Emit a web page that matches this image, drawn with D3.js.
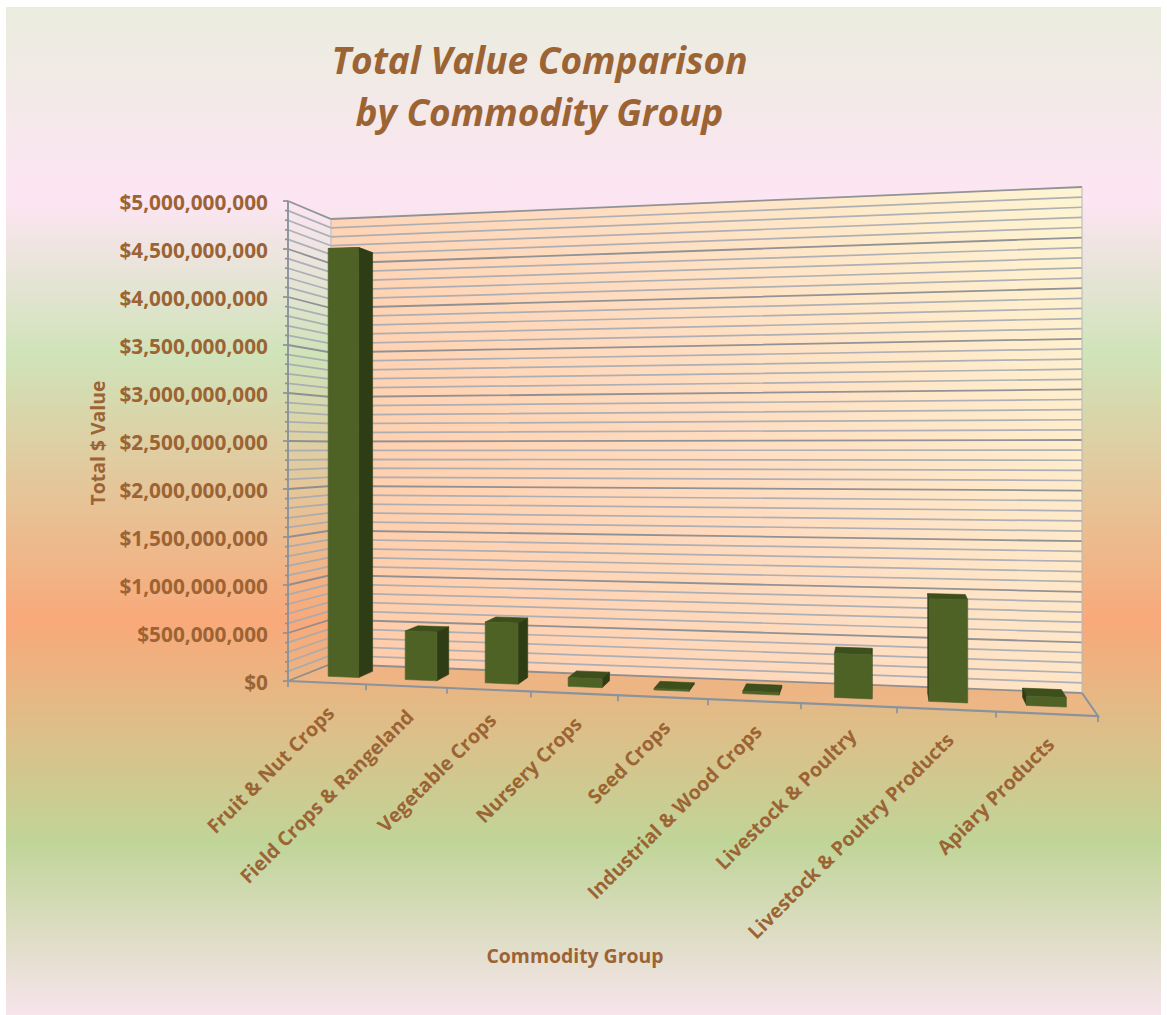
<!DOCTYPE html>
<html><head><meta charset="utf-8">
<script src="https://cdn.jsdelivr.net/npm/d3@7"></script>
<style>html,body{margin:0;padding:0;background:#fff}svg{display:block}text{font-family:"Open Sans",sans-serif;fill:#9c6434;font-weight:700}</style>
</head><body><svg id="c" width="1167" height="1015"></svg>
<script>
const categories=["Fruit & Nut Crops","Field Crops & Rangeland","Vegetable Crops","Nursery Crops","Seed Crops","Industrial & Wood Crops","Livestock & Poultry","Livestock & Poultry Products","Apiary Products"];
const totals=[4550000000,510000000,630000000,90000000,15000000,25000000,430000000,990000000,90000000];
const majorTicks=[0,500000000,1000000000,1500000000,2000000000,2500000000,3000000000,3500000000,4000000000,4500000000,5000000000];
const minorStep=100000000;
const titleLines=["Total Value Comparison","by Commodity Group"];
const svg=d3.select("#c");
const defs=svg.append("defs");
const bg=defs.append("linearGradient").attr("id","bg").attr("x1",0).attr("y1",0).attr("x2",0).attr("y2",1);
[[0,"#eaedde"],[.19,"#fde5f3"],[.345,"#d0e3b9"],[.61,"#f9a97a"],[.83,"#c0d598"],[1,"#f7e4ec"]].forEach(s=>bg.append("stop").attr("offset",s[0]).attr("stop-color",s[1]));
const wg=defs.append("linearGradient").attr("id","wall").attr("gradientUnits","userSpaceOnUse").attr("x1",330).attr("y1",660).attr("x2",1085).attr("y2",190);
[[0,"#ffcba8"],[.5,"#ffdcc0"],[1,"#fff5d2"]].forEach(s=>wg.append("stop").attr("offset",s[0]).attr("stop-color",s[1]));
defs.append("filter").attr("id","soft").attr("x","-5%").attr("y","-5%").attr("width","110%").attr("height","110%").append("feGaussianBlur").attr("stdDeviation",.55);
svg.append("rect").attr("x",6).attr("y",7).attr("width",1155).attr("height",1008).attr("fill","url(#bg)");

const n=categories.length;
const xT=d3.scaleLinear().domain([0,n]).range([0,1]);
const xU=i=>{const t=xT(i);return .85*t+.15*t*t;};
const yV=d3.scaleLinear().domain([0,5000000000]).range([0,1]);
const lerp=(a,b,t)=>a+(b-a)*t;
const frontX=d3.scaleLinear().domain([0,1]).range([288,1098]);
const backX=d3.scaleLinear().domain([0,1]).range([331,1082]);
const frontB=d3.scaleLinear().domain([0,1]).range([681,716]);
const backB=d3.scaleLinear().domain([0,1]).range([664,693]);
const frontT=d3.scaleLinear().domain([0,1]).range([201,171]);
const backT=d3.scaleLinear().domain([0,1]).range([219,187]);
function P(i,d,v){const u=xU(i),b=lerp(frontB(u),backB(u),d),t=lerp(frontT(u),backT(u),d),f=yV(v);
  return [lerp(frontX(u),backX(u),d),lerp(b,t,f)];}
const line=p=>"M"+p.map(q=>q.join(",")).join("L")+"Z";
const chart=svg.append("g").attr("filter","url(#soft)");
chart.append("path").attr("d",line([P(0,0,0),P(n,0,0),P(n,1,0),P(0,1,0)])).attr("fill","#f2b585").attr("fill-opacity",.55);
chart.append("path").attr("d",line([P(0,1,0),P(n,1,0),P(n,1,5e9),P(0,1,5e9)])).attr("fill","url(#wall)");
const vals=d3.range(0,5000000001,minorStep);
vals.forEach(v=>{const maj=v%500000000===0;
  const a=P(0,0,v),b=P(0,1,v),c=P(n,1,v);
  chart.append("path").attr("d","M"+a+"L"+b+"L"+c).attr("fill","none").attr("stroke",maj?"#858a90":"#a4aab2").attr("stroke-width",maj?1.8:1.7).attr("stroke-opacity",.9);
  chart.append("line").attr("x1",a[0]-(maj?5:3)).attr("x2",a[0]).attr("y1",a[1]).attr("y2",a[1]).attr("stroke","#8a939c").attr("stroke-width",1.7);
});
const ax="#8a939c";
chart.append("path").attr("d","M"+P(0,0,0)+"L"+P(0,0,5e9)).attr("stroke",ax).attr("stroke-width",1.9).attr("fill","none");
chart.append("path").attr("d","M"+P(0,1,0)+"L"+P(0,1,5e9)).attr("stroke","#b5b8ba").attr("stroke-width",1).attr("fill","none");
chart.append("path").attr("d","M"+P(n,1,0)+"L"+P(n,1,5e9)).attr("stroke","#b5b8ba").attr("stroke-width",1).attr("fill","none");
chart.append("path").attr("d","M"+P(0,0,0)+"L"+P(n,0,0)+"L"+P(n,1,0)).attr("stroke",ax).attr("stroke-width",2.1).attr("fill","none");
d3.range(0,n+1).forEach(i=>{const p=P(i,0,0);chart.append("line").attr("x1",p[0]).attr("x2",p[0]).attr("y1",p[1]).attr("y2",p[1]+6).attr("stroke",ax).attr("stroke-width",1.7);});
const d0=.34,d1=.7,hw=.2;
const FR="#4f6228",SD="#2f3d12",TP="#3c4f1a";
totals.forEach((v,i)=>{const c=i+.54,l=c-hw,r=c+hw;
  const g=chart.append("g");
  const face=(a,col)=>g.append("path").attr("d",line(a)).attr("fill",col).attr("stroke",col).attr("stroke-width",.6).attr("stroke-linejoin","round");
  face([P(l,d0,v),P(r,d0,v),P(r,d1,v),P(l,d1,v)],TP);
  if(P(r,d1,0)[0]>P(r,d0,0)[0]) face([P(r,d0,0),P(r,d1,0),P(r,d1,v),P(r,d0,v)],SD);
  if(P(l,d1,0)[0]<P(l,d0,0)[0]) face([P(l,d0,0),P(l,d1,0),P(l,d1,v),P(l,d0,v)],SD);
  face([P(l,d0,0),P(r,d0,0),P(r,d0,v),P(l,d0,v)],FR);
});
majorTicks.forEach(v=>{const p=P(0,0,v);
  svg.append("text").attr("x",268).attr("y",p[1]+9).attr("text-anchor","end").attr("font-size",20.8).text(d3.format("$,")(v));});
categories.forEach((c,i)=>{const u=P(i+.5,0,0);
  svg.append("text").attr("transform",`translate(${u[0]+9},${u[1]+32}) rotate(-45)`).attr("text-anchor","end").attr("font-size",19.6).text(c);});
svg.append("text").attr("transform","translate(105,443) rotate(-90)").attr("text-anchor","middle").attr("font-size",19.4).text("Total $ Value");
svg.append("text").attr("x",575).attr("y",963).attr("text-anchor","middle").attr("font-size",19.4).text("Commodity Group");
titleLines.forEach((t,i)=>svg.append("text").attr("x",539.5).attr("y",74+i*52).attr("text-anchor","middle").attr("font-size",37).attr("font-style","italic").text(t));
</script></body></html>
